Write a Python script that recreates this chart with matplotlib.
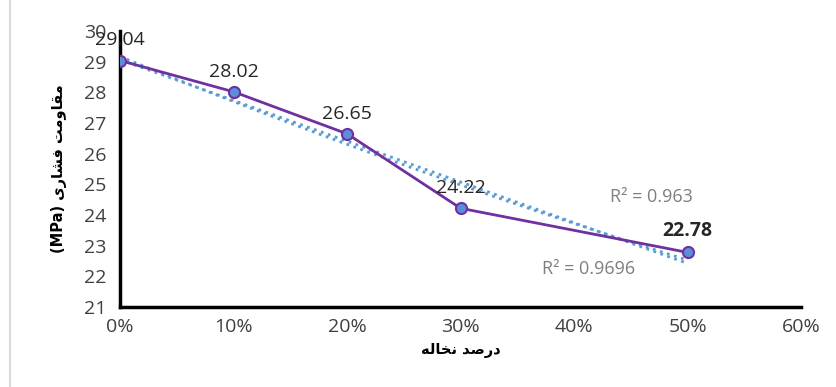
import numpy as np
import matplotlib
matplotlib.use("Agg")
import matplotlib.pyplot as plt
from matplotlib.patches import Rectangle

# data
ash_pct = [0.0, 0.10, 0.20, 0.30, 0.50]
strength = [29.04, 28.02, 26.65, 24.22, 22.78]
point_labels = ["29.04", "28.02", "26.65", "24.22", "22.78"]
label_bold = [False, False, False, False, True]
r2_linear = "R\u00b2 = 0.963"
r2_expo = "R\u00b2 = 0.9696"
x_ticks = [0.0, 0.1, 0.2, 0.3, 0.4, 0.5, 0.6]
y_ticks = list(range(21, 31))

# persian labels written in visual order with presentation forms
xlabel_fa = "\uFEEA\uFEDF\uFE8E\uFEA8\uFEE7 \uFEAA\uFEBB\uFEAD\uFEA9"
ylabel_fa = "(MPa) \uFEEF\uFEAD\uFE8E\uFEB8\uFED3 \uFE96\uFEE3\uFEED\uFE8E\uFED8\uFEE3"

plt.rcParams['font.family'] = ['Open Sans', 'DejaVu Sans']

fig = plt.figure(figsize=(8.36, 3.87), dpi=100)
ax = fig.add_axes([0.1435, 0.2067, 0.815, 0.713])

x = np.array(ash_pct)
y = np.array(strength)

# trendlines (linear and exponential), like excel
xs = np.linspace(x.min(), x.max(), 50)
lin = np.polyfit(x, y, 1)
ax.plot(xs, np.polyval(lin, xs), ls=':', color='#5B9BD5', lw=2, zorder=2)
ex = np.polyfit(x, np.log(y), 1)
ax.plot(xs, np.exp(np.polyval(ex, xs)), ls=':', color='#5B9BD5', lw=2, zorder=2)

ax.plot(x, y, color='#7030A0', lw=2, marker='o', ms=8,
        markerfacecolor='#5B8ED8', markeredgecolor='#7030A0', markeredgewidth=1.5, zorder=3)

for xi, yi, lab, b in zip(x, y, point_labels, label_bold):
    ax.annotate(lab, (xi, yi), xytext=(0, 8), textcoords='offset points',
                ha='center', va='bottom', fontsize=14,
                fontweight='bold' if b else 'normal', color='#262626')

ax.text(0.468, 24.6, r2_linear, fontsize=13, color='#7F7F7F', ha='center', va='center')
ax.text(0.413, 22.25, r2_expo, fontsize=13, color='#7F7F7F', ha='center', va='center')

ax.set_xlim(0, 0.6)
ax.set_ylim(21, 30)
ax.set_xticks(x_ticks)
ax.set_xticklabels([f"{int(round(t*100))}%" for t in x_ticks])
ax.set_yticks(y_ticks)
ax.tick_params(length=0, labelsize=14, colors='#404040', pad=8)
ax.tick_params(axis='y', pad=10)

for s in ['top', 'right']:
    ax.spines[s].set_visible(False)
for s in ['left', 'bottom']:
    ax.spines[s].set_linewidth(2.5)
    ax.spines[s].set_color('black')

ax.set_xlabel(xlabel_fa, family=['DejaVu Sans'], fontsize=10.5, fontweight='bold', labelpad=5)
ax.set_ylabel(ylabel_fa, family=['DejaVu Sans'], fontsize=10.5, fontweight='bold', labelpad=12)

# chart frame
fig.patches.append(Rectangle((0.012, -0.01), 1.2, 1.2, transform=fig.transFigure,
                             fill=False, edgecolor='#D9D9D9', lw=1.5))

fig.savefig("out.png", dpi=100)
